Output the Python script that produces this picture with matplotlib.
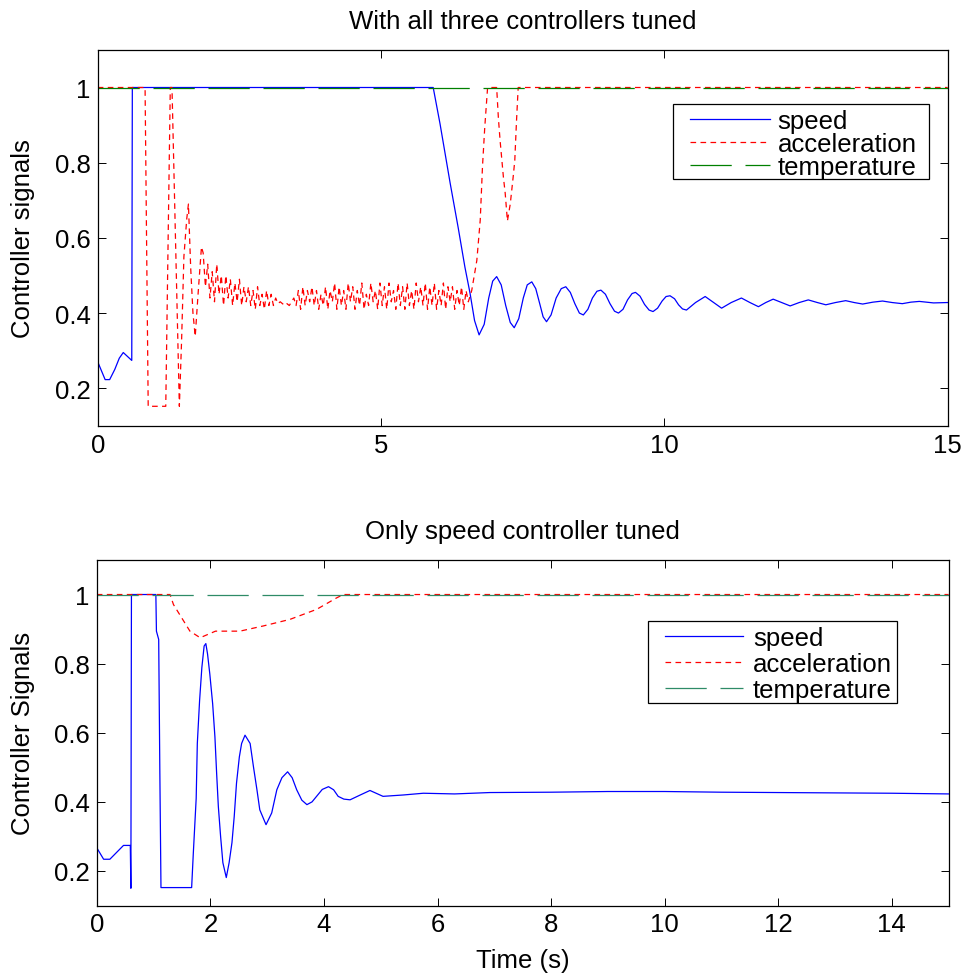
import numpy as np
import matplotlib
matplotlib.use("Agg")
import matplotlib.pyplot as plt
from matplotlib.patches import Rectangle

plt.rcParams['font.family'] = ['Liberation Sans', 'DejaVu Sans']

# ---- top panel: with all three controllers tuned ----
t_speed1 = [0, 0.13, 0.21, 0.30, 0.38, 0.45, 0.60, 0.61, 5.92, 6.04, 6.22, 6.36, 6.48,
            6.57, 6.65, 6.73, 6.82, 6.90, 6.97, 7.04, 7.12, 7.20, 7.28, 7.35, 7.43, 7.51,
            7.58, 7.66, 7.73, 7.80, 7.86, 7.92, 8.00, 8.09, 8.18, 8.26, 8.34, 8.42, 8.50,
            8.57, 8.65, 8.73, 8.81, 8.88, 8.96, 9.04, 9.12, 9.19, 9.27, 9.35, 9.43, 9.49,
            9.57, 9.65, 9.73, 9.80, 9.88, 9.96, 10.03, 10.10, 10.18, 10.25, 10.32, 10.39,
            10.55, 10.72, 10.87, 11.01, 11.18, 11.36, 11.51, 11.66, 11.79, 11.92, 12.07,
            12.22, 12.38, 12.54, 12.70, 12.85, 13.02, 13.20, 13.35, 13.50, 13.68, 13.85,
            14.02, 14.20, 14.35, 14.50, 14.75, 15.0]
speed1 = [0.27, 0.223, 0.223, 0.25, 0.28, 0.295, 0.274, 1.0, 1.0, 0.904, 0.745, 0.628, 0.522,
          0.453, 0.38, 0.342, 0.37, 0.44, 0.485, 0.497, 0.475, 0.42, 0.375, 0.361, 0.385,
          0.44, 0.475, 0.483, 0.465, 0.425, 0.39, 0.377, 0.395, 0.44, 0.465, 0.47, 0.455,
          0.425, 0.40, 0.395, 0.41, 0.44, 0.458, 0.461, 0.45, 0.425, 0.405, 0.40, 0.41,
          0.435, 0.452, 0.455, 0.445, 0.423, 0.408, 0.404, 0.413, 0.432, 0.444, 0.446,
          0.438, 0.422, 0.411, 0.408, 0.428, 0.444, 0.428, 0.413, 0.428, 0.44, 0.428,
          0.417, 0.428, 0.437, 0.428, 0.419, 0.428, 0.435, 0.428, 0.422, 0.428, 0.433,
          0.428, 0.424, 0.429, 0.432, 0.428, 0.425, 0.429, 0.431, 0.427, 0.428]

t_acc1_head = [0, 0.835, 0.89, 1.20, 1.28, 1.31, 1.44, 1.48, 1.52, 1.57, 1.60, 1.64,
               1.68, 1.72, 1.77, 1.83]
acc1_head = [1.0, 1.0, 0.152, 0.152, 1.0, 1.0, 0.152, 0.33, 0.55, 0.65, 0.69, 0.52,
             0.40, 0.338, 0.45, 0.576]
# noisy band, one value every 0.04 s starting at 1.86 s
acc1_band_start = 1.86
acc1_band_step = 0.04
acc1_band = [0.56, 0.47, 0.53, 0.44, 0.51, 0.43, 0.53, 0.45, 0.50, 0.42,
             0.50, 0.44, 0.49, 0.42, 0.48, 0.43, 0.49, 0.42, 0.47, 0.43,
             0.47, 0.42, 0.46, 0.41, 0.47, 0.42, 0.45, 0.41, 0.46, 0.42,
             0.45, 0.42, 0.44, 0.425, 0.43, 0.425, 0.42, 0.425, 0.42, 0.43,
             0.44, 0.42, 0.46, 0.41, 0.47, 0.42, 0.46, 0.43, 0.47, 0.42,
             0.46, 0.41, 0.45, 0.42, 0.47, 0.41, 0.46, 0.43, 0.48, 0.41,
             0.47, 0.42, 0.46, 0.41, 0.48, 0.43, 0.47, 0.41, 0.46, 0.42,
             0.48, 0.41, 0.45, 0.42, 0.48, 0.43, 0.46, 0.41, 0.48, 0.42,
             0.47, 0.41, 0.48, 0.43, 0.46, 0.41, 0.48, 0.42, 0.47, 0.41,
             0.48, 0.42, 0.46, 0.41, 0.48, 0.43, 0.47, 0.42, 0.48, 0.41,
             0.47, 0.42, 0.48, 0.41, 0.46, 0.42, 0.48, 0.41, 0.47, 0.43,
             0.47, 0.41, 0.46, 0.42, 0.47, 0.41, 0.46, 0.43]
t_acc1_tail = [6.60, 6.69, 6.75, 6.79, 6.83, 6.88, 7.04, 7.07, 7.10, 7.16, 7.19, 7.23,
               7.28, 7.33, 7.36, 7.39, 7.42, 15.0]
acc1_tail = [0.46, 0.54, 0.647, 0.79, 0.894, 1.0, 1.0, 0.92, 0.86, 0.76, 0.72, 0.645,
             0.69, 0.76, 0.806, 0.91, 1.0, 1.0]

t_temp = [0, 15]
temp = [1.0, 1.0]

# ---- bottom panel: only speed controller tuned ----
t_speed2 = [0, 0.12, 0.23, 0.47, 0.59, 0.60, 0.61, 1.04, 1.05, 1.09, 1.11, 1.13, 1.67,
            1.70, 1.75, 1.77, 1.81, 1.85, 1.89, 1.92, 1.95, 1.99, 2.04, 2.08, 2.11, 2.14,
            2.18, 2.22, 2.28, 2.33, 2.38, 2.42, 2.46, 2.51, 2.55, 2.61, 2.70, 2.76, 2.82,
            2.87, 2.98, 3.08, 3.17, 3.26, 3.36, 3.44, 3.52, 3.61, 3.70, 3.79, 3.87, 3.97,
            4.08, 4.17, 4.25, 4.35, 4.46, 4.64, 4.81, 5.04, 5.40, 5.75, 6.30, 6.92, 8.0,
            9.0, 10.0, 11.0, 12.0, 13.0, 14.0, 15.0]
speed2 = [0.267, 0.234, 0.234, 0.274, 0.274, 0.15, 1.0, 1.0, 0.894, 0.87, 0.487, 0.152,
          0.152, 0.253, 0.41, 0.569, 0.693, 0.789, 0.851, 0.858, 0.828, 0.77, 0.684,
          0.588, 0.483, 0.387, 0.30, 0.224, 0.181, 0.224, 0.282, 0.358, 0.454, 0.53,
          0.569, 0.593, 0.569, 0.50, 0.435, 0.377, 0.334, 0.368, 0.435, 0.47, 0.487,
          0.47, 0.435, 0.405, 0.392, 0.40, 0.416, 0.436, 0.444, 0.435, 0.416, 0.408,
          0.406, 0.42, 0.433, 0.416, 0.42, 0.425, 0.423, 0.427, 0.428, 0.43, 0.43, 0.428,
          0.427, 0.426, 0.425, 0.423]

t_acc2 = [0, 1.29, 1.35, 1.64, 1.82, 2.09, 2.52, 2.93, 3.40, 3.87, 4.22, 4.34, 15.0]
acc2 = [1.0, 1.0, 0.971, 0.894, 0.875, 0.894, 0.894, 0.909, 0.928, 0.957, 0.99, 1.0, 1.0]

labels = ['speed', 'acceleration', 'temperature']

t_band = [acc1_band_start + acc1_band_step * i for i in range(len(acc1_band))]
t_acc1 = t_acc1_head + t_band + t_acc1_tail
acc1 = acc1_head + acc1_band + acc1_tail

FS = 18.5

fig = plt.figure(figsize=(9.68, 9.79), dpi=100)
ax1 = fig.add_axes([0.101, 0.564, 0.878, 0.384])
ax2 = fig.add_axes([0.100, 0.074, 0.880, 0.353])

def style(ax, xticks):
    ax.set_ylim(0.1, 1.1)
    ax.set_yticks([0.2, 0.4, 0.6, 0.8, 1.0])
    ax.set_yticklabels(['0.2', '0.4', '0.6', '0.8', '1'])
    ax.set_xlim(0, 15)
    ax.set_xticks(xticks)
    ax.set_xticklabels([str(x) for x in xticks])
    ax.tick_params(direction='in', top=True, right=True, length=6, width=0.7,
                   labelsize=FS, pad=5)
    for s in ax.spines.values():
        s.set_linewidth(0.9)

def legend(ax, anchor, box, hl, pad, spacing):
    # MATLAB style box: drawn separately so the padding is wider than tall
    ax.add_patch(Rectangle((box[0], box[1]), box[2] - box[0], box[3] - box[1],
                           transform=ax.transAxes, facecolor='white', edgecolor='black',
                           lw=0.9, zorder=4))
    leg = ax.legend(loc='upper left', bbox_to_anchor=anchor, borderaxespad=0,
                    fontsize=FS, handlelength=hl, handletextpad=pad, labelspacing=spacing,
                    borderpad=0, frameon=False)
    leg.set_zorder(5)

ax1.plot(t_speed1, speed1, color='#0000ff', lw=0.9, label=labels[0])
ax1.plot(t_acc1, acc1, color='#ff0000', lw=0.9, dashes=(4.5, 3.5), label=labels[1])
ax1.plot(t_temp, temp, color='#008000', lw=0.9, dashes=(33, 11), label=labels[2])
style(ax1, [0, 5, 10, 15])
ax1.set_title('With all three controllers tuned', fontsize=FS, pad=16)
ax1.set_ylabel('Controller signals', fontsize=FS)
ax1.yaxis.set_label_coords(-0.074, 0.5)
legend(ax1, (0.697, 0.842), (0.677, 0.656, 0.978, 0.856), 3.1, 0.31, -0.05)

ax2.plot(t_speed2, speed2, color='#0000ff', lw=0.9, label=labels[0])
ax2.plot(t_acc2, acc2, color='#ff0000', lw=0.9, dashes=(4.5, 3.5), label=labels[1])
ax2.plot(t_temp, temp, color='#2e8b67', lw=0.9, dashes=(33, 11), label=labels[2])
style(ax2, [0, 2, 4, 6, 8, 10, 12, 14])
ax2.set_title('Only speed controller tuned', fontsize=FS, pad=16)
ax2.set_ylabel('Controller Signals', fontsize=FS)
ax2.yaxis.set_label_coords(-0.073, 0.5)
ax2.set_xlabel('Time (s)', fontsize=FS, labelpad=8)
legend(ax2, (0.667, 0.809), (0.647, 0.586, 0.939, 0.823), 3.04, 0.39, 0.07)

fig.savefig('out.png', dpi=100)
